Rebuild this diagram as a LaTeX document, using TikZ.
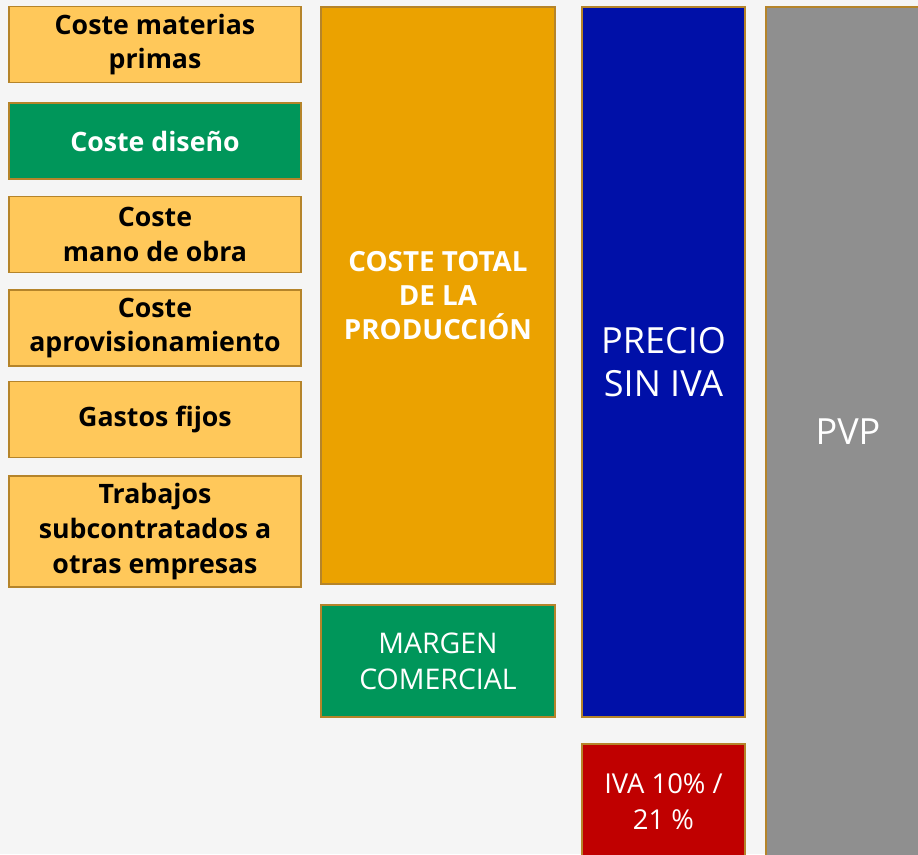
\documentclass[tikz,border=0pt]{standalone}
\usepackage{fontspec}
\setmainfont{Open Sans}
\usetikzlibrary{positioning}
\definecolor{bgcol}{HTML}{F5F5F5}
\definecolor{edgecol}{HTML}{B5842A}
\definecolor{costyellow}{HTML}{FFC85A}
\definecolor{designgreen}{HTML}{00965A}
\definecolor{totalorange}{HTML}{EBA200}
\definecolor{priceblue}{HTML}{0010A8}
\definecolor{taxred}{HTML}{C00000}
\definecolor{pvpgray}{HTML}{8F8F8F}

\begin{document}
\begin{tikzpicture}
  [
  x=0.02cm, y=-0.02cm, line width=1.1pt,
  box/.style={rectangle, draw=edgecol, inner sep=0pt, align=center},
  itembox/.style={box, minimum width=5.84cm, minimum height=1.52cm, fill=costyellow,
    font=\fontsize{15.2}{19.8}\selectfont\bfseries},
  greenbox/.style={fill=designgreen, text=white},
  bigtext/.style={font=\fontsize{20.5}{24.4}\selectfont, text=white}
  ]

\fill[bgcol] (0,0) rectangle (918,854);
\clip (0,0) rectangle (918,854);

% cost items
\node[itembox] (mat) at (155,44.5) {Coste materias\\primas};
\node[itembox, greenbox] (dis) at (155,141) {Coste diseño};
\node[itembox] (obra) at (155,234.5) {Coste\\mano de obra};
\node[itembox] (aprov) at (155,328) {Coste\\aprovisionamiento};
\node[itembox] (fijos) at (155,419.5) {Gastos fijos};
\node[itembox, minimum height=2.22cm] (subc) at (155,531.5) {Trabajos\\subcontratados a\\otras empresas};

% totals
\node[box, fill=totalorange, text=white, minimum width=4.68cm, minimum height=11.54cm,
  font=\fontsize{15.8}{19.3}\selectfont\bfseries] (total) at (438,295.5) {COSTE TOTAL\\DE LA\\PRODUCCIÓN};
\node[box, greenbox, minimum width=4.68cm, minimum height=2.24cm,
  font=\fontsize{16.2}{20.4}\selectfont] (margen) at (438,661) {MARGEN\\COMERCIAL};

\node[box, fill=priceblue, bigtext, minimum width=3.26cm, minimum height=14.2cm] (precio) at (663.5,362) {PRECIO\\SIN IVA};
\node[box, fill=taxred, text=white, minimum width=3.26cm, minimum height=2.32cm,
  font=\fontsize{15.6}{20.4}\selectfont] (iva) at (663.5,802) {IVA 10\% /\\21 \%};

\node[box, fill=pvpgray, bigtext, minimum width=3.28cm, minimum height=17cm] (pvp) at (848,432) {PVP};
\end{tikzpicture}
\end{document}
